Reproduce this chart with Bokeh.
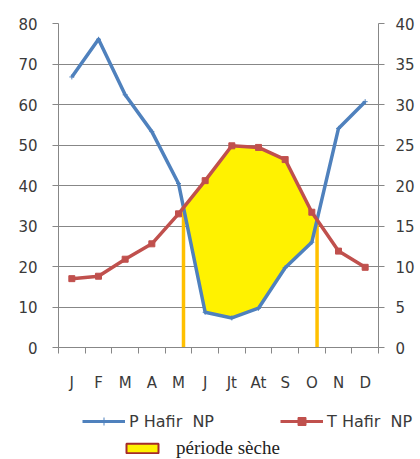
import numpy as np
from bokeh.plotting import figure
from bokeh.models import (Range1d, LinearAxis, FixedTicker, Legend, LegendItem,
                          CustomJSTickFormatter, Grid)
from bokeh.embed import file_html
from bokeh.resources import INLINE

# ---- data -------------------------------------------------------------
months = ["J", "F", "M", "A", "M", "J", "Jt", "At", "S", "O", "N", "D"]
precip = [66.8, 76.1, 62.4, 53.3, 40.5, 8.7, 7.3, 9.7, 19.7, 26.0, 54.1, 60.7]
temp = [8.5, 8.8, 10.9, 12.8, 16.5, 20.6, 24.9, 24.7, 23.2, 16.7, 11.9, 9.9]
left_ticks = [0, 10, 20, 30, 40, 50, 60, 70, 80]
right_ticks = [0, 5, 10, 15, 20, 25, 30, 35, 40]
P_MAX = 80
T_MAX = 40

# ---- derived (positions through the scales) ----------------------------
x = np.arange(len(months)) + 0.5
bounds = list(np.arange(len(months) + 1).astype(float))
P = np.array(precip, dtype=float)
T2 = np.array(temp, dtype=float) * P_MAX / T_MAX
diff = P - T2
dry = np.where(diff < 0)[0]
i0, i1 = dry[0], dry[-1]


def cross(a, b):
    f = diff[a] / (diff[a] - diff[b])
    return x[a] + f * (x[b] - x[a]), T2[a] + f * (T2[b] - T2[a])


xa, ya = cross(i0 - 1, i0)
xb, yb = cross(i1, i1 + 1)
patch_x = [xa] + list(x[i0:i1 + 1]) + [xb] + list(x[i0:i1 + 1][::-1])
patch_y = [ya] + list(T2[i0:i1 + 1]) + [yb] + list(P[i0:i1 + 1][::-1])

GRID = "#878787"
TXT = "#3a3a3a"
BLUE = "#4F81BD"
RED = "#C0504D"
YEL = "#FFF200"
DRED = "#A52A2A"
ORANGE = "#FFC000"

W = 420
H_MAIN = 400
H_LEG = 59

p = figure(width=W, height=H_MAIN, x_range=Range1d(0, 12), y_range=Range1d(0, P_MAX),
           output_backend="svg", toolbar_location=None,
           x_axis_type=None, y_axis_type=None,
           min_border_left=58, min_border_right=42, min_border_top=23,
           min_border_bottom=53)
p.extra_y_ranges = {"t": Range1d(0, T_MAX)}
p.outline_line_color = None

p.add_layout(Grid(dimension=1, ticker=FixedTicker(ticks=left_ticks),
                  grid_line_color=GRID, grid_line_width=1))

# axes
yl = LinearAxis(ticker=FixedTicker(ticks=left_ticks))
yr = LinearAxis(ticker=FixedTicker(ticks=right_ticks), y_range_name="t")
for ax, so in ((yl, 15), (yr, 11)):
    ax.axis_line_color = GRID
    ax.major_tick_line_color = GRID
    ax.major_tick_out = 6
    ax.major_tick_in = 0
    ax.minor_tick_line_color = None
    ax.major_label_standoff = so
    ax.major_label_text_font = "DejaVu Sans"
    ax.major_label_text_font_size = "15px"
    ax.major_label_text_color = TXT
p.add_layout(yl, "left")
p.add_layout(yr, "right")

xax = LinearAxis(ticker=FixedTicker(ticks=list(x), minor_ticks=bounds),
                 formatter=CustomJSTickFormatter(args=dict(labels=months),
                                                 code="return labels[Math.floor(tick)]"))
xax.axis_line_color = GRID
xax.major_tick_line_color = None
xax.major_tick_out = 6
xax.major_tick_in = 0
xax.minor_tick_line_color = GRID
xax.minor_tick_out = 6
xax.minor_tick_in = 0
xax.major_label_standoff = 20
xax.major_label_text_font = "DejaVu Sans"
xax.major_label_text_font_size = "15px"
xax.major_label_text_color = TXT
p.add_layout(xax, "below")

# dry period
p.patch(patch_x, patch_y, fill_color=YEL, line_color=None)
p.segment(x0=[xa, xb], y0=[0, 0], x1=[xa, xb], y1=[ya, yb],
          line_color=ORANGE, line_width=3.5)

# series
p.line(x, precip, line_color=BLUE, line_width=3.5, line_join="round")
p.scatter(x, precip, marker="cross", size=5, line_color=BLUE, line_width=1)
p.line(x, temp, y_range_name="t", line_color=RED, line_width=3.5, line_join="round")
p.scatter(x, temp, y_range_name="t", marker="square", size=6,
          fill_color=RED, line_color=RED)

# ---- legend strip below (separate root, same series styles, data out of view)
q = figure(width=W, height=H_LEG, x_range=Range1d(0, 1), y_range=Range1d(0, 1),
           output_backend="svg", toolbar_location=None,
           x_axis_type=None, y_axis_type=None,
           min_border_left=0, min_border_right=0, min_border_top=0, min_border_bottom=0)
q.outline_line_color = None
q.xgrid.visible = False
q.ygrid.visible = False
lb = q.line(x, precip, line_color=BLUE, line_width=3)
mb = q.scatter(x, precip, marker="cross", size=6, line_color=BLUE, line_width=1)
lr = q.line(x, temp, line_color=RED, line_width=3)
mr = q.scatter(x, temp, marker="square", size=6, fill_color=RED, line_color=RED)
pp = q.patch(patch_x, patch_y, fill_color=YEL, line_color=DRED, line_width=2)

leg1 = Legend(items=[LegendItem(label="P Hafir  NP", renderers=[lb, mb]),
                     LegendItem(label="T Hafir  NP", renderers=[lr, mr])],
              orientation="horizontal", location=(82, 28), padding=0, margin=0,
              border_line_color=None, background_fill_alpha=0,
              glyph_width=43, glyph_height=20, label_height=20, label_standoff=4,
              spacing=66, label_text_font="DejaVu Sans", label_text_font_size="16px",
              label_text_color=TXT)
leg2 = Legend(items=[LegendItem(label="période sèche", renderers=[pp])],
              location=(122, 0), padding=0, margin=0,
              border_line_color=None, background_fill_alpha=0,
              glyph_width=40, glyph_height=12, label_height=16, label_standoff=14,
              label_text_font="Liberation Serif", label_text_font_size="19px",
              label_text_color="#222222")
q.add_layout(leg1)
q.add_layout(leg2)

open("out.html", "w").write(file_html([p, q], INLINE))
